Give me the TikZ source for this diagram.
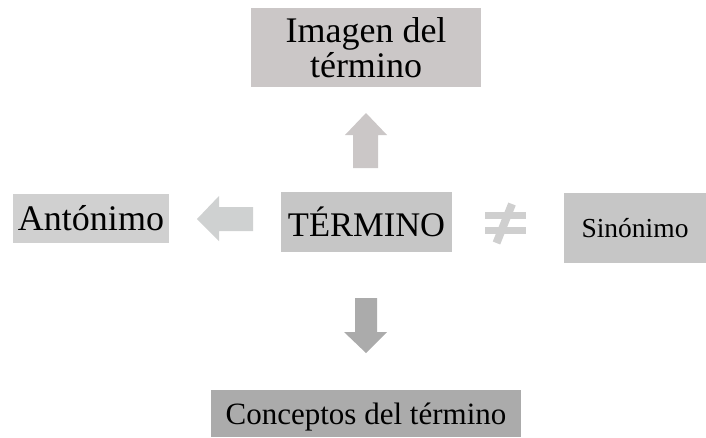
\documentclass[tikz,border=0pt]{standalone}
\usepackage{fontspec}
\setmainfont{Liberation Serif}
\definecolor{imggray}{HTML}{CBC7C7}
\definecolor{antgray}{HTML}{D0D0D0}
\definecolor{antarrow}{HTML}{CFD1D1}
\definecolor{termgray}{HTML}{C6C6C6}
\definecolor{neqgray}{HTML}{CFCFCF}
\definecolor{concgray}{HTML}{ABABAB}
\begin{document}
\begin{tikzpicture}[x=1pt, y=-1pt,
    box/.style={inner sep=0pt, text=black, align=center}]
            \useasboundingbox (0, 0) rectangle (706, 437);

            %%draw the boxes
            \node[box, fill=imggray, minimum width=230pt, minimum height=79pt,
                font=\fontsize{36}{35}\selectfont] (img) at (366, 47.5){Imagen del\\término};
            \node[box, fill=termgray, minimum width=171pt, minimum height=60pt,
                font=\fontsize{34.5}{35}\selectfont] (term) at (366.5, 222){TÉRMINO};
            \node[box, fill=antgray, minimum width=156pt, minimum height=49pt,
                font=\fontsize{36}{36}\selectfont] (ant) at (91, 218.5){Antónimo};
            \node[box, fill=termgray, minimum width=142pt, minimum height=70pt,
                font=\fontsize{27.5}{28}\selectfont] (sin) at (635, 228){Sinónimo};
            \node[box, fill=concgray, minimum width=310pt, minimum height=47pt, text depth=0pt,
                font=\fontsize{31}{30}\selectfont] (conc) at (366, 413.5){Conceptos del término};

            %%draw the arrows
            \fill[imggray] (353, 168) -- (353, 135) -- (345, 135) -- (366, 113)
                -- (387, 135) -- (378, 135) -- (378, 168) -- cycle;
            \fill[antarrow] (253, 207) -- (219, 207) -- (219, 196) -- (197, 219)
                -- (219, 241) -- (219, 231) -- (253, 231) -- cycle;
            \fill[concgray] (355, 298) -- (377, 298) -- (377, 332) -- (387, 332)
                -- (366, 353) -- (344, 332) -- (355, 332) -- cycle;

            %%the not-equal sign
            \fill[neqgray] (485, 212) rectangle (526, 219);
            \fill[neqgray] (485, 227) rectangle (526, 234);
            \draw[neqgray, line width=8pt] (512, 204) to (496.5, 243);
\end{tikzpicture}
\end{document}
